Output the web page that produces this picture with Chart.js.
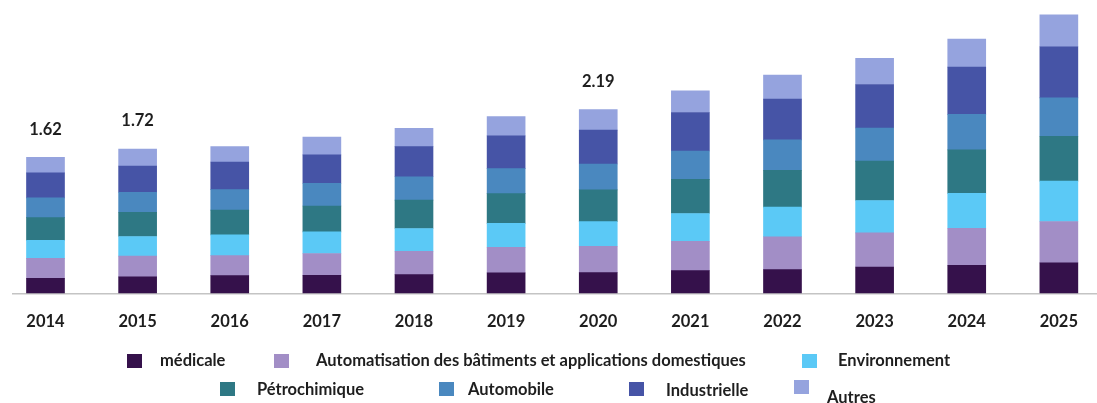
<!DOCTYPE html>
<html>
<head>
<meta charset="utf-8">
<script src="https://cdn.jsdelivr.net/npm/chart.js@4"></script>
<style>
    html, body { margin: 0; padding: 0; background: #fff; overflow: hidden; }
    #wrap { position: relative; width: 1097px; height: 403px; }
    #legend { position: absolute; left: 0; top: 0; width: 1097px; height: 403px; pointer-events: none;
              font: bold 16.5px Lato, sans-serif; color: #1e1e1e; }
    .box { position: absolute; width: 15px; height: 14px; }
    .lab { position: absolute; white-space: nowrap; transform: translateY(-50%); }
</style>
</head>
<body>
<div id="wrap">
    <canvas id="marketChart" width="1097" height="403"></canvas>
    <div id="legend"></div>
</div>
<script>
const years = ['2014', '2015', '2016', '2017', '2018', '2019', '2020', '2021', '2022', '2023', '2024', '2025'];

const medicale       = [0.174, 0.193, 0.207, 0.212, 0.220, 0.240, 0.244, 0.267, 0.280, 0.311, 0.331, 0.359];
const automatisation = [0.239, 0.247, 0.240, 0.260, 0.279, 0.307, 0.314, 0.351, 0.392, 0.407, 0.443, 0.495];
const environnement  = [0.215, 0.235, 0.248, 0.259, 0.272, 0.284, 0.294, 0.332, 0.354, 0.387, 0.416, 0.483];
const petrochimique  = [0.273, 0.290, 0.295, 0.308, 0.339, 0.356, 0.380, 0.407, 0.440, 0.471, 0.519, 0.535];
const automobile     = [0.236, 0.239, 0.244, 0.272, 0.279, 0.299, 0.309, 0.339, 0.363, 0.395, 0.424, 0.459];
const industrielle   = [0.298, 0.313, 0.331, 0.339, 0.359, 0.390, 0.404, 0.460, 0.487, 0.520, 0.566, 0.611];
const autres         = [0.185, 0.203, 0.184, 0.212, 0.220, 0.232, 0.245, 0.259, 0.287, 0.311, 0.335, 0.380];

const seriesNames = ['médicale', 'Automatisation des bâtiments et applications domestiques', 'Environnement',
                     'Pétrochimique', 'Automobile', 'Industrielle', 'Autres'];
const seriesData = [medicale, automatisation, environnement, petrochimique, automobile, industrielle, autres];
const seriesColors = ['#35114b', '#a28ec6', '#5bc9f6', '#2e7884', '#4a88bf', '#4654a6', '#95a3de'];

// years whose total gets printed above the bar
const labelledYears = ['2014', '2015', '2020'];

// legend placement: [boxLeft, boxTop, textLeft, textMiddle]
const legendSpots = [
    [127, 354, 160, 360],
    [274, 354, 316, 360],
    [802, 354, 838, 360],
    [220, 382, 257, 389],
    [439, 382, 468, 389],
    [629, 382, 666, 390],
    [794, 380, 827, 397]
];

const totals = years.map((_, i) => seriesData.reduce((s, arr) => s + arr[i], 0));

const decorations = {
    id: 'decorations',
    beforeDatasetsDraw(chart) {
        const ctx = chart.ctx;
        const y0 = Math.round(chart.scales.y.getPixelForValue(0));
        ctx.save();
        ctx.strokeStyle = '#c4c4c4';
        ctx.lineWidth = 1.5;
        ctx.beginPath();
        ctx.moveTo(12, y0 + 0.75);
        ctx.lineTo(chart.width, y0 + 0.75);
        ctx.stroke();
        ctx.restore();
    },
    afterDatasetsDraw(chart) {
        const ctx = chart.ctx;
        const xs = chart.scales.x;
        const ys = chart.scales.y;
        ctx.save();
        ctx.font = 'bold 16.5px Lato, sans-serif';
        ctx.fillStyle = '#1e1e1e';
        ctx.textAlign = 'center';
        ctx.textBaseline = 'middle';
        for (const yr of labelledYears) {
            const i = years.indexOf(yr);
            ctx.fillText(totals[i].toFixed(2), xs.getPixelForValue(i), ys.getPixelForValue(totals[i]) - 28);
        }
        ctx.restore();
    }
};

const canv = document.getElementById('marketChart').getContext('2d');
const chart = new Chart(canv, {
    type: 'bar',
    data: {
        labels: years,
        datasets: seriesData.map((d, k) => ({
            label: seriesNames[k],
            data: d,
            backgroundColor: seriesColors[k],
            borderWidth: 0,
            barThickness: 38,
            clip: false
        }))
    },
    options: {
        responsive: false,
        animation: false,
        layout: {
            padding: { left: 45.5, right: 27.5, top: 0, bottom: 60 }
        },
        plugins: {
            legend: { display: false },
            tooltip: { enabled: false }
        },
        scales: {
            x: {
                stacked: true,
                offset: false,
                grid: { display: false, drawTicks: false, offset: false },
                border: { display: false },
                ticks: {
                    padding: 19,
                    maxRotation: 0,
                    autoSkip: false,
                    color: '#1e1e1e',
                    font: { family: 'Lato', weight: 'bold', size: 16.5 }
                },
                afterFit(scale) { scale.height = 50; }
            },
            y: {
                stacked: true,
                display: false,
                min: 0,
                max: 3.5
            }
        }
    },
    plugins: [decorations]
});

// legend built from the same series list
const legend = document.getElementById('legend');
seriesNames.forEach((name, k) => {
    const [bx, by, tx, ty] = legendSpots[k];
    const box = document.createElement('div');
    box.className = 'box';
    box.style.left = bx + 'px';
    box.style.top = by + 'px';
    box.style.background = seriesColors[k];
    const lab = document.createElement('div');
    lab.className = 'lab';
    lab.style.left = tx + 'px';
    lab.style.top = ty + 'px';
    lab.textContent = name;
    legend.appendChild(box);
    legend.appendChild(lab);
});
</script>
</body>
</html>
